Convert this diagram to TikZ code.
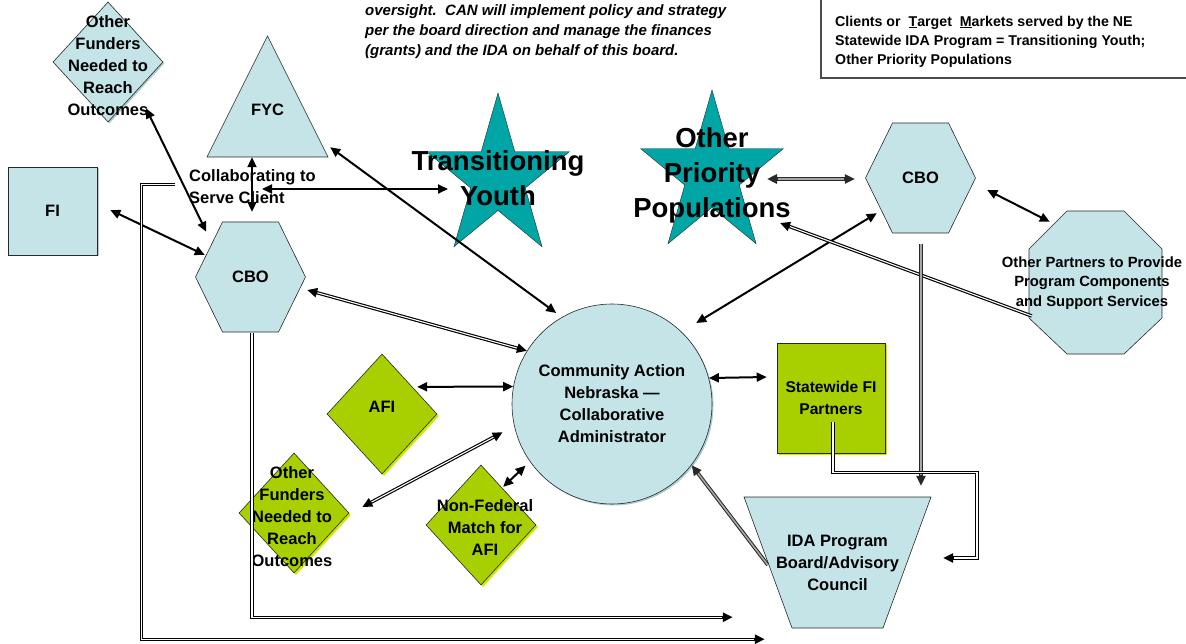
\documentclass[tikz,border=0pt]{standalone}
\usepackage{fontspec}
\setmainfont{Liberation Sans}
\usetikzlibrary{arrows.meta,shapes.geometric,shadows,calc}

\definecolor{paleblue}{RGB}{196,228,232}
\definecolor{paleshade}{RGB}{172,204,210}
\definecolor{lime}{RGB}{168,208,0}
\definecolor{limeshade}{RGB}{206,232,0}
\definecolor{starteal}{RGB}{0,166,166}
\definecolor{rim}{RGB}{40,40,40}

\tikzset{
  txt/.style={font=\fontsize{16.5}{22}\selectfont\bfseries, align=center, inner sep=0pt},
  shapebase/.style={draw=rim, line width=0.6pt, inner sep=0pt},
  bluebox/.style={shapebase, rectangle, fill=paleblue,
    drop shadow={shadow xshift=1.5pt, shadow yshift=-1.5pt, fill=paleshade, opacity=1}},
  greenbox/.style={shapebase, rectangle, fill=lime,
    drop shadow={shadow xshift=2pt, shadow yshift=-2pt, fill=limeshade, opacity=1}},
  bluediamond/.style={shapebase, diamond, fill=paleblue, minimum width=110pt, minimum height=120pt,
    drop shadow={shadow xshift=1.5pt, shadow yshift=-1.5pt, fill=paleshade, opacity=1}},
  greendiamond/.style={shapebase, diamond, fill=lime, minimum width=110pt, minimum height=120pt,
    drop shadow={shadow xshift=2pt, shadow yshift=-2pt, fill=limeshade, opacity=1}},
  % shapes drawn inside an invisible box node
  hexcell/.style={txt, minimum width=112pt, minimum height=112pt,
    path picture={\draw[shapebase, fill=paleblue]
      ([shift={(28,1)}]path picture bounding box.north west)
      -- ([shift={(-28,1)}]path picture bounding box.north east)
      -- ([shift={(-1,0)}]path picture bounding box.east)
      -- ([shift={(-28,-1)}]path picture bounding box.south east)
      -- ([shift={(28,-1)}]path picture bounding box.south west)
      -- ([shift={(1,0)}]path picture bounding box.west) -- cycle;}},
  octcell/.style={txt, minimum width=135pt, minimum height=145pt,
    path picture={\draw[shapebase, fill=paleblue]
      ([shift={(39,1)}]path picture bounding box.north west)
      -- ([shift={(-39,1)}]path picture bounding box.north east)
      -- ([shift={(-1,39)}]path picture bounding box.north east)
      -- ([shift={(-1,-37)}]path picture bounding box.south east)
      -- ([shift={(-39,-1)}]path picture bounding box.south east)
      -- ([shift={(39,-1)}]path picture bounding box.south west)
      -- ([shift={(1,-37)}]path picture bounding box.south west)
      -- ([shift={(1,39)}]path picture bounding box.north west) -- cycle;}},
  fyccell/.style={txt, minimum width=123pt, minimum height=150pt,
    path picture={\draw[shapebase, fill=paleblue]
      ([shift={(0,1)}]path picture bounding box.north)
      -- ([shift={(-1,-28)}]path picture bounding box.south east)
      -- ([shift={(1,-28)}]path picture bounding box.south west) -- cycle;}},
  idacell/.style={txt, minimum width=189pt, minimum height=133pt,
    path picture={\draw[shapebase, fill=paleblue]
      ([shift={(1,1)}]path picture bounding box.north west)
      -- ([shift={(-1,1)}]path picture bounding box.north east)
      -- ([shift={(-49,-1)}]path picture bounding box.south east)
      -- ([shift={(49,-1)}]path picture bounding box.south west) -- cycle;}},
  starcell/.style={font=\fontsize{27.5}{35}\selectfont\bfseries, align=center, inner sep=0pt,
    minimum width=150pt, minimum height=176pt,
    path picture={\draw[draw=rim, line width=0.4pt, fill=starteal]
      ($(path picture bounding box.center)+(-90:75 and 85)$)
      \foreach \k in {0,...,4}{
        -- ($(path picture bounding box.center)+(-54+72*\k:28.6 and 32.5)$)
        -- ($(path picture bounding box.center)+(-18+72*\k:75 and 85)$)} -- cycle;}},
  partnertxt/.style={font=\fontsize{14.8}{19.5}\selectfont\bfseries, align=center, inner sep=0pt},
  notetxt/.style={font=\fontsize{15}{20}\selectfont\bfseries\itshape, align=left, inner sep=0pt},
  legendtxt/.style={font=\fontsize{14.2}{19}\selectfont\bfseries, align=left, inner sep=0pt},
  link/.style={draw=black, line width=2pt},
  % hollow double line: black stroke with a white core
  pipe/.style={draw=black, line width=3.4pt,
    postaction={draw=white, line width=1.1pt, arrows=-, shorten >=10.5pt}},
  pipeboth/.style={draw=black, line width=3.4pt,
    postaction={draw=white, line width=1.1pt, arrows=-, shorten >=10.5pt, shorten <=10.5pt}},
  greypipe/.style={draw=rim, line width=3.6pt,
    postaction={draw=gray!70, line width=1.6pt, arrows=-, shorten >=10.5pt}},
  greypipeboth/.style={draw=rim, line width=3.6pt,
    postaction={draw=gray!70, line width=1.6pt, arrows=-, shorten >=10.5pt, shorten <=10.5pt}},
}

\begin{document}
\begin{tikzpicture}[x=1pt, y=-1pt, >={Triangle[length=10pt,width=9pt]}]
\useasboundingbox (0,0) rectangle (1186,644);

% notes along the top edge
\node[notetxt, anchor=west] (note) at (365,32) {oversight.\ \ CAN will implement policy and strategy\\per the board direction and manage the finances\\(grants) and the IDA on behalf of this board.};
\node[legendtxt, anchor=west] (legend) at (835,41.5) {Clients or\ \ \underline{T}arget\ \ \underline{M}arkets served by the NE\\Statewide IDA Program = Transitioning Youth;\\Other Priority Populations};
\draw[draw=gray!60!black, line width=1.2pt] (821,-5) |- (1195,78);

% partners, funders and clients
\node[bluediamond] (fundT) at (108,62) {};
\node[txt] (fundTtext) at (108,66) {Other\\Funders\\Needed to\\Reach\\Outcomes};
\node[fyccell] (fyc) at (267.5,110) {FYC};
\node[bluebox, txt, minimum width=89pt, minimum height=88pt] (fi) at (52.5,211) {FI};
\node[hexcell] (cboL) at (250.5,277) {CBO};
\node[txt, align=left, anchor=west] (collab) at (189,187) {Collaborating to\\Serve Client};
\node[starcell] (youth) at (498,178) {Transitioning\\Youth};
\node[starcell] (prio) at (712,175) {Other\\Priority\\Populations};
\node[hexcell] (cboR) at (920.5,178) {CBO};
\node[octcell] (partners) at (1095.5,282.5) {};
\node[partnertxt] (partnerstext) at (1092,283) {Other Partners to Provide\\Program Components\\and Support Services};

% administrator and lower row
\node[circle, shapebase, fill=paleblue, minimum size=200pt, txt,
  drop shadow={shadow xshift=1.5pt, shadow yshift=-1.5pt, fill=paleshade, opacity=1}] (can) at (612,404)
  {Community Action\\Nebraska —\\Collaborative\\Administrator};
\node[greendiamond] (afi) at (382,414) {};
\node[txt] (afitext) at (382,407) {AFI};
\node[greendiamond] (fundB) at (294,513) {};
\node[txt] (fundBtext) at (292,517) {Other\\Funders\\Needed to\\Reach\\Outcomes};
\node[greendiamond] (match) at (481,525) {};
\node[txt] (matchtext) at (485,528) {Non-Federal\\Match for\\AFI};
\node[greenbox, txt, font=\fontsize{15.6}{22}\selectfont\bfseries, minimum width=108pt, minimum height=110pt] (state) at (831,398) {Statewide FI\\Partners};
\node[idacell] (ida) at (837.5,562.5) {IDA Program\\Board/Advisory\\Council};

% corners of the routed lines
\coordinate (stateFoot) at ([shift={(2,-31)}]state.south);
\coordinate (stateBend) at ([shift={(2,19)}]state.south);
\coordinate (stateTurn) at ([shift={(146,19)}]state.south);
\coordinate (idaEast) at ([shift={(11,-4.5)}]ida.east);
\coordinate (cboFoot) at ([shift={(1.5,0)}]cboL.south);
\coordinate (idaLow) at ([shift={(-10,-12)}]ida.south west);

% connectors
\draw[link,<->] ([shift={(38,-14)}]fundT.south) -- ([shift={(12,11)}]cboL.north west);
\draw[link,<->] ([shift={(-15.5,-28)}]fyc.south) -- ([shift={(1.5,-9)}]cboL.north);
\draw[link,<->] ([shift={(73,2)}]collab.west) -- ([shift={(-50,11)}]youth.center);
\draw[link,<->,shorten >=7pt] ([shift={(1,-38)}]fyc.south east) -- (can.120);
\draw[link,<->] ([shift={(13,-1)}]fi.east) -- ([shift={(10.5,-22)}]cboL.west);
\draw[pipeboth,<->] ([shift={(0.5,13)}]cboL.east) -- (can.148);
\draw[link,<->] ([shift={(7.5,3)}]afi.north east) -- (can.170);
\draw[pipeboth,<->] ([shift={(13,-6)}]fundB.east) -- ([shift={(-12,4)}]can.194);
\draw[link,<->,shorten >=6pt] ([shift={(-5.5,-8)}]match.north east) -- (can.215);
\draw[link,<->] (can.15) -- ([shift={(-10,-21)}]state.west);
\draw[link,<->,shorten <=17pt] (can.46) -- ([shift={(12.5,-21)}]cboR.south west);
\draw[greypipeboth,<->] ([shift={(55,4)}]prio.center) -- ([shift={(-9.5,1)}]cboR.west);
\draw[link,<->] ([shift={(10.5,12)}]cboR.east) -- ([shift={(22,12)}]partners.north west);
\draw[pipe,->] ([shift={(4,33.5)}]partners.west) -- ([shift={(68,48)}]prio.center);
\draw[greypipe,->] ([shift={(0.5,10)}]cboR.south) -- ([shift={(83.5,-10)}]ida.north);
\draw[greypipe,->] ([shift={(25,2.5)}]ida.west) -- ([shift={(10,-11)}]can.314);
\draw[pipe,->] (stateFoot) -- (stateBend) -- (stateTurn) -- (stateTurn |- idaEast) -- (idaEast);
\draw[pipe,->] (cboFoot) -- (cboFoot |- idaLow) -- (idaLow);
\draw[pipe,->] ([shift={(78,18)}]fi.north east) -- ++(-34,0) |- ([shift={(22,10)}]ida.south west);
\end{tikzpicture}
\end{document}
